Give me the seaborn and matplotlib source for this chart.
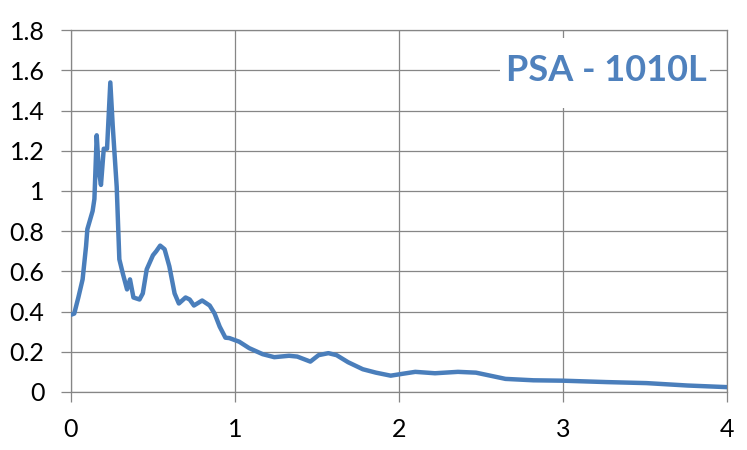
import numpy as np
import pandas as pd
import seaborn as sns
import matplotlib.pyplot as plt
from matplotlib.patches import Rectangle

# values
period = [0.00, 0.02, 0.045, 0.071, 0.092, 0.10, 0.132, 0.143, 0.157, 0.170,
          0.183, 0.20, 0.22, 0.24, 0.255, 0.279, 0.295, 0.316, 0.342, 0.36,
          0.381, 0.418, 0.438, 0.462, 0.50, 0.52, 0.544, 0.571, 0.60, 0.632,
          0.658, 0.699, 0.724, 0.75, 0.80, 0.846, 0.876, 0.907, 0.942, 0.966,
          1.026, 1.087, 1.169, 1.24, 1.33, 1.38, 1.46, 1.51, 1.57, 1.62,
          1.69, 1.78, 1.86, 1.95, 2.02, 2.10, 2.22, 2.36, 2.47, 2.65,
          2.82, 3.00, 3.27, 3.51, 3.76, 4.00]
psa = [0.384, 0.39, 0.47, 0.56, 0.725, 0.81, 0.90, 0.96, 1.277, 1.10,
       1.03, 1.21, 1.21, 1.54, 1.32, 1.02, 0.66, 0.59, 0.51, 0.56,
       0.47, 0.46, 0.49, 0.61, 0.68, 0.70, 0.728, 0.71, 0.625, 0.49,
       0.44, 0.47, 0.46, 0.43, 0.455, 0.43, 0.39, 0.325, 0.27, 0.268,
       0.25, 0.218, 0.188, 0.173, 0.18, 0.176, 0.151, 0.183, 0.193, 0.183,
       0.148, 0.113, 0.096, 0.081, 0.09, 0.10, 0.093, 0.10, 0.096, 0.065,
       0.058, 0.056, 0.049, 0.044, 0.032, 0.024]
title = "PSA - 1010L"

sns.set_style("white")
plt.rcParams['font.family'] = ['Lato', 'DejaVu Sans']

df = pd.DataFrame({"T": period, "PSA": psa})

fig = plt.figure(figsize=(7.47, 4.5), dpi=100)
ax = fig.add_axes([0.095, 0.129, 0.878, 0.804])

grid_col = "#868686"
ax.set_xlim(0, 4)
ax.set_ylim(0, 1.8)
ax.set_xticks(np.arange(0, 5, 1))
ax.set_yticks(np.round(np.arange(0, 1.81, 0.2), 1))
ax.set_xticklabels(["0", "1", "2", "3", "4"])
ax.set_yticklabels(["0", "0.2", "0.4", "0.6", "0.8", "1", "1.2", "1.4", "1.6", "1.8"])
ax.grid(True, color=grid_col, linewidth=0.9)
ax.set_axisbelow(True)
for s in ax.spines.values():
    s.set_color(grid_col)
    s.set_linewidth(0.9)
ax.tick_params(axis="both", direction="out", color=grid_col, width=0.9,
               labelsize=18, labelcolor="black")
ax.tick_params(axis="y", length=7, pad=12)
ax.tick_params(axis="x", length=7, pad=12)
ax.tick_params(left=True, bottom=True)

# white box behind the title hides the grid there
ax.add_patch(Rectangle((0.654, 0.785), 0.32, 0.193, transform=ax.transAxes,
                       facecolor="white", edgecolor="none", zorder=1.5))

sns.lineplot(data=df, x="T", y="PSA", ax=ax, color="#4A7EBB", linewidth=3.2,
             sort=False, zorder=3, solid_joinstyle="round", solid_capstyle="round")
ax.set_xlabel("")
ax.set_ylabel("")

ax.text(0.817, 0.889, title, transform=ax.transAxes, ha="center", va="center",
        fontsize=26, fontweight="bold", color="#4F81BD", zorder=4)

fig.savefig("out.png", dpi=100)
